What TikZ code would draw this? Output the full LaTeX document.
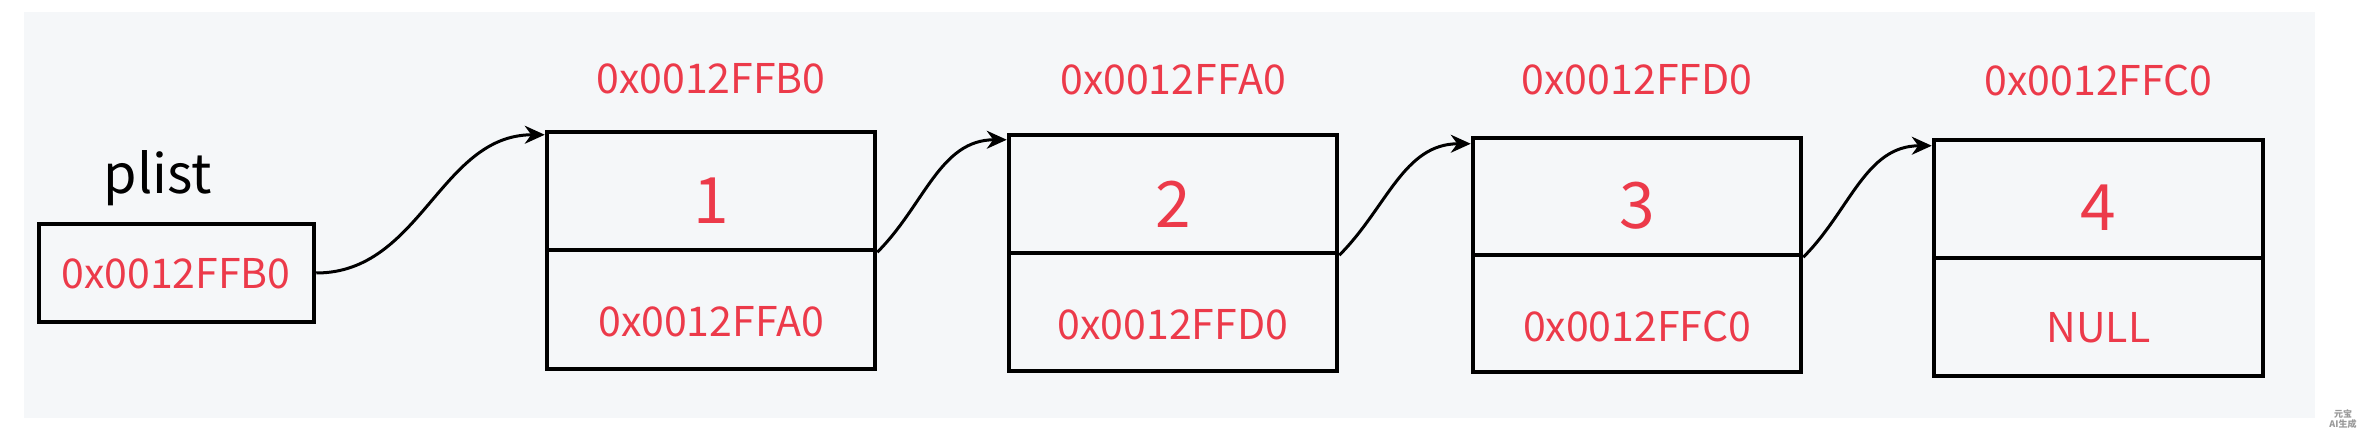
\documentclass[tikz,border=0pt]{standalone}
\usepackage{fontspec}
\setmainfont{Noto Sans CJK SC}
\usetikzlibrary{arrows.meta}
\definecolor{addr}{RGB}{236,58,74}
\definecolor{panel}{RGB}{245,247,249}
\begin{document}
\begin{tikzpicture}[x=1pt,y=-1pt,
  cell/.style={draw=black,line width=4.5pt,minimum width=328pt,minimum height=118pt,inner sep=0pt},
  addrtxt/.style={text=addr,font=\fontsize{41}{48}\selectfont,inner sep=0pt},
  numtxt/.style={text=addr,font=\fontsize{64}{72}\selectfont,inner sep=0pt},
  link/.style={line width=3pt,-{Stealth[length=20pt,width=18pt]}}]
\useasboundingbox (0,0) rectangle (2369,443);
\fill[white] (0,0) rectangle (2369,443);
\fill[panel] (24,12) rectangle (2315,418);

% plist pointer
\node[font=\fontsize{54}{60}\selectfont,anchor=base,inner sep=0pt] (plbl) at (158,194) {plist};
\node[draw=black,line width=4.5pt,minimum width=275pt,minimum height=98pt,inner sep=0pt] (p) at (176.5,273) {};
\node[addrtxt] (ptxt) at (176,274) {0x0012FFB0};

% node 1
\node[cell] (n1t) at (711,191) {};
\node[cell,minimum height=119pt] (n1b) at (711,309.5) {};
\node[numtxt] (v1) at (711,201) {1};
\node[addrtxt] (a1) at (711,322) {0x0012FFA0};
\node[addrtxt] (h1) at (711,79) {0x0012FFB0};

% node 2
\node[cell] (n2t) at (1173,194) {};
\node[cell] (n2b) at (1173,312) {};
\node[numtxt] (v2) at (1173,204) {2};
\node[addrtxt] (a2) at (1173,325) {0x0012FFD0};
\node[addrtxt] (h2) at (1173,80) {0x0012FFA0};

% node 3
\node[cell,minimum height=117pt] (n3t) at (1637,196.5) {};
\node[cell,minimum height=117pt] (n3b) at (1637,313.5) {};
\node[numtxt] (v3) at (1637,206) {3};
\node[addrtxt] (a3) at (1637,326) {0x0012FFC0};
\node[addrtxt] (h3) at (1637,80) {0x0012FFD0};

% node 4
\node[cell,minimum width=329pt] (n4t) at (2098.5,199) {};
\node[cell,minimum width=329pt] (n4b) at (2098.5,317) {};
\node[numtxt] (v4) at (2098.5,208) {4};
\node[addrtxt] (a4) at (2098.5,328) {NULL};
\node[addrtxt] (h4) at (2098.5,80) {0x0012FFC0};

% links
\draw[link] (p.east) to[out=0,in=180] ([yshift=-5pt]n1t.north west);
\draw[link] (n1t.south east) to[out=45,in=180] ([yshift=-7pt]n2t.north west);
\draw[link] (n2t.south east) to[out=45,in=180] ([yshift=-8pt]n3t.north west);
\draw[link] (n3t.south east) to[out=45,in=180] ([yshift=-8pt]n4t.north west);

% watermark
\node[text=black!40,font=\bfseries\itshape\fontsize{9}{9.5}\selectfont,align=center,inner sep=0pt] (wm) at (2343,419) {元宝\\AI生成};
\end{tikzpicture}
\end{document}
